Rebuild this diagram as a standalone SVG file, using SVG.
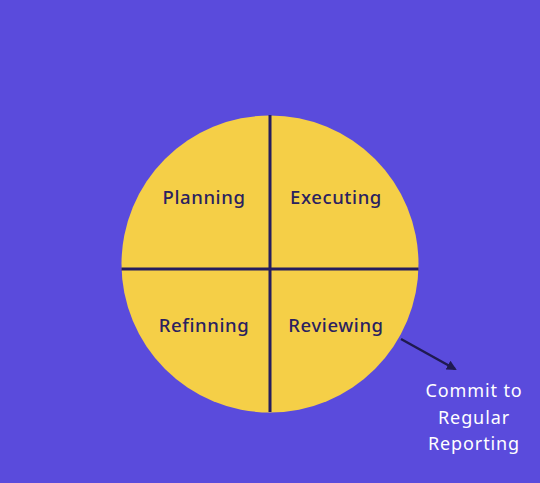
<svg xmlns="http://www.w3.org/2000/svg" width="540" height="483" viewBox="0 0 540 483">
<style>
.lbl{font-family:"Noto Sans","Open Sans",sans-serif;font-size:18.5px;font-weight:500;letter-spacing:0.6px;fill:#2a2160;text-anchor:middle}
.note{font-family:"Noto Sans","Open Sans",sans-serif;font-size:18px;font-weight:400;letter-spacing:0.9px;fill:#ffffff;text-anchor:middle}
.div{stroke:#251d5e;stroke-width:3}
</style>
<defs>
<marker id="ah" viewBox="0 0 10 10" refX="8" refY="5" markerWidth="4" markerHeight="4" orient="auto">
<path d="M0,0 L10,5 L0,10 z" fill="#1f1a50"/>
</marker>
</defs>
<rect width="540" height="483" fill="#5a4bdc"/>
<g id="circle">
<circle cx="270" cy="264" r="148.5" fill="#f5cf47"/>
<line class="div" x1="270" y1="115" x2="270" y2="412"/>
<line class="div" x1="121.5" y1="269" x2="418.5" y2="269"/>
</g>
<g id="planning"><text class="lbl" x="204" y="204">Planning</text></g>
<g id="executing"><text class="lbl" x="336" y="204">Executing</text></g>
<g id="refinning"><text class="lbl" x="204" y="332">Refinning</text></g>
<g id="reviewing"><text class="lbl" x="336" y="332">Reviewing</text></g>
<g id="connectors">
<line x1="401" y1="339" x2="455" y2="369" stroke="#1f1a50" stroke-width="2.5" marker-end="url(#ah)"/>
</g>
<g id="commit">
<text class="note" x="474" y="397">Commit to</text>
<text class="note" x="474" y="424">Regular</text>
<text class="note" x="474" y="450">Reporting</text>
</g>
</svg>
